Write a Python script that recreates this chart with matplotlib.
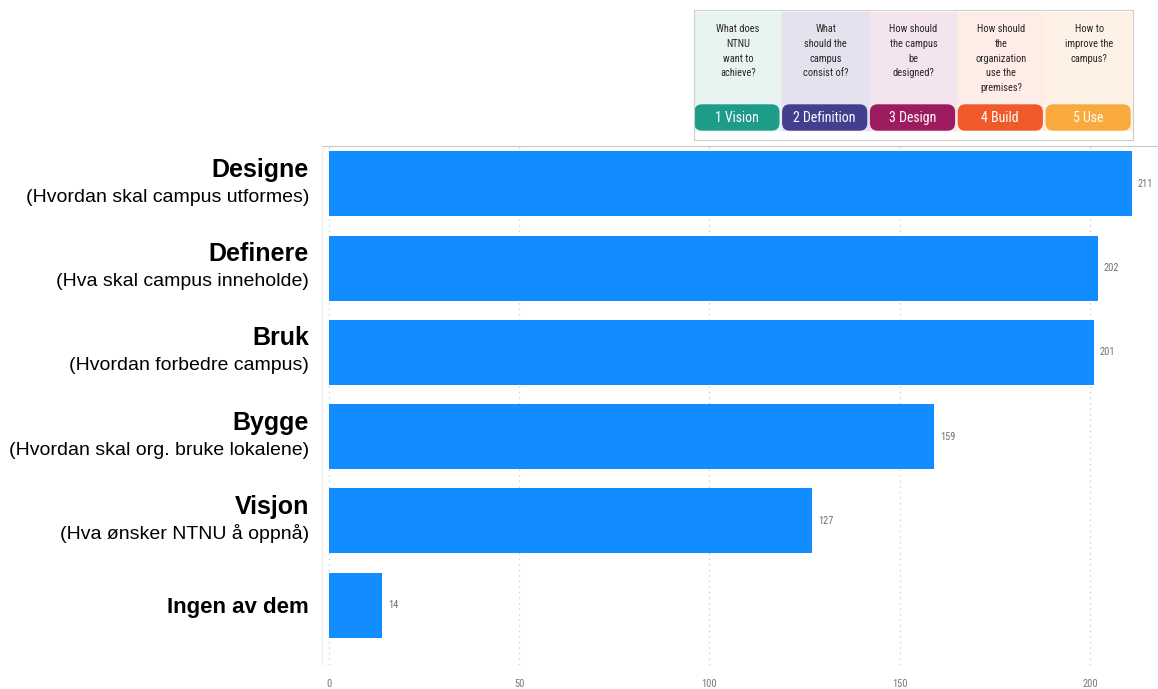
import matplotlib.pyplot as plt
import matplotlib.transforms as mtransforms
from matplotlib.patches import Rectangle, FancyBboxPatch

# survey answers per campus phase
phases = ["Designe", "Definere", "Bruk", "Bygge", "Visjon", "Ingen av dem"]
phase_notes = ["(Hvordan skal campus utformes)", "(Hva skal campus inneholde)",
               "(Hvordan forbedre campus)", "(Hvordan skal org. bruke lokalene)",
               "(Hva ønsker NTNU å oppnå)", ""]
counts = [211, 202, 201, 159, 127, 14]
x_ticks = [0, 50, 100, 150, 200]

# phase overview strip
step_questions = ["What does\nNTNU\nwant to\nachieve?",
                  "What\nshould the\ncampus\nconsist of?",
                  "How should\nthe campus\nbe\ndesigned?",
                  "How should\nthe\norganization\nuse the\npremises?",
                  "How to\nimprove the\ncampus?"]
step_names = ["1 Vision", "2 Definition", "3 Design", "4 Build", "5 Use"]
step_bg = ["#e8f4f0", "#e4e2ee", "#f3e4ee", "#fdede6", "#fdf2e5"]
step_tab = ["#1d9c8a", "#433f8f", "#9c1c5f", "#f05a2a", "#f8aa3c"]
narrow = ["Roboto Condensed", "Liberation Sans Narrow", "Roboto", "DejaVu Sans"]

W, H = 1158, 689
fig = plt.figure(figsize=(W / 100, H / 100), dpi=100)
plt.rcParams['font.family'] = ['Liberation Sans', 'DejaVu Sans']

ax = fig.add_axes([322 / W, (H - 665) / H, (W - 322) / W, (665 - 146) / H])
ypos = list(range(len(phases)))
ax.barh(ypos, counts, height=0.77, color="#118dff", zorder=3)
ax.set_xlim(-1.84, 217.9)
ax.set_ylim(5.71, -0.45)

ax.set_xticks(x_ticks)
ax.set_xticklabels([str(t) for t in x_ticks], fontsize=7.5, color="#777777", family=narrow)
ax.tick_params(axis="x", length=0, pad=10)
ax.set_yticks([])
ax.grid(axis="x", linestyle=(0, (1, 3)), color="#d0d0d0", linewidth=1, zorder=0)
for side in ["right", "bottom"]:
    ax.spines[side].set_visible(False)
ax.spines["top"].set_color("#c8c8c8")
ax.spines["left"].set_color("#eeeeee")

for y, v in zip(ypos, counts):
    ax.annotate(str(v), (v, y), xytext=(6, 0), textcoords="offset pixels",
                va="center", ha="left", fontsize=7.5, color="#707070", family=narrow)

# category labels to the left of the bars
base = ax.get_yaxis_transform()
for y, name, note in zip(ypos, phases, phase_notes):
    if note:
        t1 = mtransforms.offset_copy(base, fig=fig, x=-13, y=7, units="dots")
        ax.text(0, y, name, transform=t1, ha="right", va="baseline",
                fontsize=18, fontweight="bold", clip_on=False)
        t2 = mtransforms.offset_copy(base, fig=fig, x=-13, y=-18, units="dots")
        ax.text(0, y, note, transform=t2, ha="right", va="baseline",
                fontsize=14, clip_on=False)
    else:
        t1 = mtransforms.offset_copy(base, fig=fig, x=-13, y=-8, units="dots")
        ax.text(0, y, name, transform=t1, ha="right", va="baseline",
                fontsize=16, fontweight="bold", clip_on=False)

# overview strip, laid out in pixel units
left, right, top, bottom = 694, 1133, 10, 140
ins = fig.add_axes([left / W, (H - bottom) / H, (right - left) / W, (bottom - top) / H])
ins.set_xlim(left, right)
ins.set_ylim(bottom, top)
ins.set_xticks([])
ins.set_yticks([])
for s in ins.spines.values():
    s.set_color("#cfcfcf")
    s.set_linewidth(0.8)

pw = (right - left) / len(step_names)
for i in range(len(step_names)):
    x0 = left + i * pw
    ins.add_patch(Rectangle((x0, 12), pw, 118, color=step_bg[i], zorder=1))
    ins.add_patch(FancyBboxPatch((x0 + 1, 105), pw - 4, 25,
                                 boxstyle="round,pad=0,rounding_size=7",
                                 color=step_tab[i], zorder=2))
    ins.text(x0 + pw / 2 - 1, 118, step_names[i], ha="center", va="center",
             color="white", fontsize=10, family=narrow, fontstretch="condensed", zorder=3)
    ins.text(x0 + pw / 2, 24, step_questions[i], ha="center", va="top",
             fontsize=7.5, family=narrow, fontstretch="condensed", linespacing=1.6,
             color="#262626", zorder=3)

fig.savefig("out.png", dpi=100)
